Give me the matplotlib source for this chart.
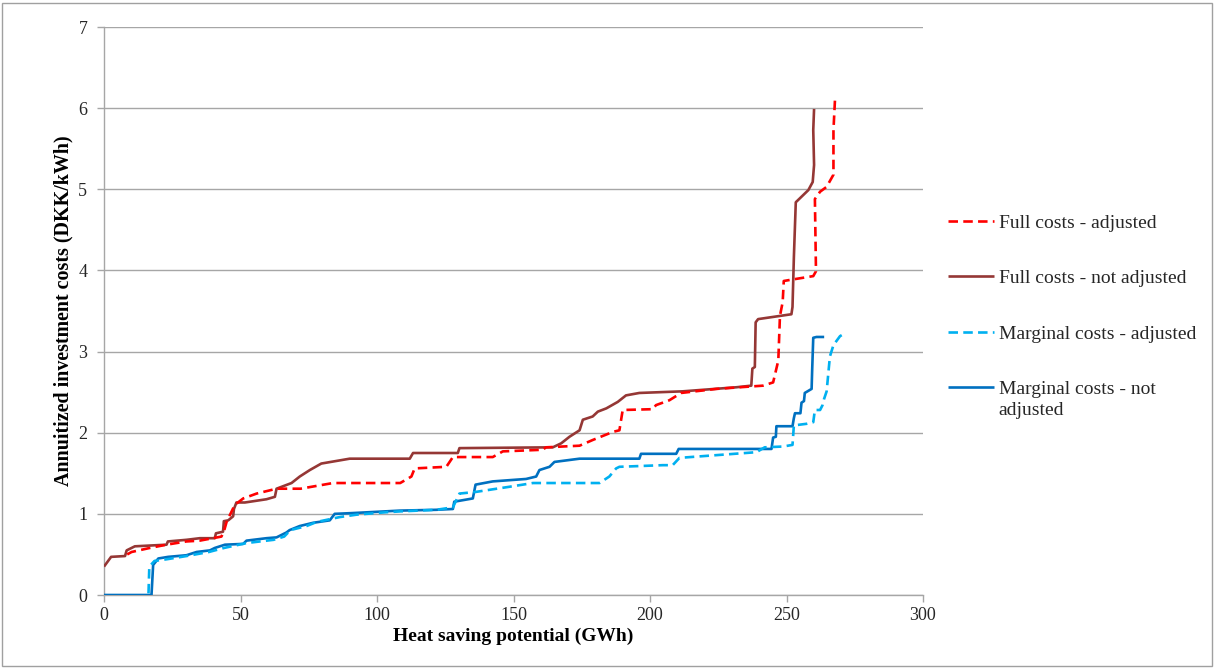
import matplotlib
matplotlib.use("Agg")
import matplotlib.pyplot as plt
from matplotlib.patches import Rectangle

# ---- data (x: GWh, y: DKK/kWh) ----
full_adjusted = [(8.5, 0.50), (10.1, 0.53), (16.8, 0.58), (22.9, 0.62), (30.2, 0.66), (35.1, 0.67),
                 (43.0, 0.72), (43.9, 0.78), (44.9, 0.90), (47.9, 1.11), (51.0, 1.19), (55.9, 1.25),
                 (63.2, 1.31), (72.0, 1.31), (83.9, 1.38), (108.5, 1.38), (112.6, 1.46), (113.8, 1.56),
                 (125.4, 1.58), (127.8, 1.70), (142.4, 1.70), (146.1, 1.77), (160.7, 1.79), (161.9, 1.82),
                 (174.2, 1.84), (179.0, 1.91), (186.4, 2.01), (188.8, 2.03), (190.0, 2.28), (201.0, 2.29),
                 (202.2, 2.34), (207.1, 2.40), (211.4, 2.49), (224.3, 2.54), (241.4, 2.58), (245.1, 2.62),
                 (247.0, 2.89), (247.6, 3.44), (248.6, 3.61), (249.0, 3.87), (252.5, 3.89), (259.8, 3.93),
                 (260.8, 3.99), (260.4, 4.88), (262.3, 4.97), (264.7, 5.03), (267.2, 5.18), (267.2, 5.73),
                 (267.8, 6.13)]

full_not_adjusted = [(0.0, 0.35), (2.6, 0.47), (7.7, 0.48), (8.3, 0.55), (11.3, 0.60), (22.9, 0.62),
                     (23.4, 0.66), (30.2, 0.68), (35.1, 0.70), (40.6, 0.70), (41.0, 0.76), (43.6, 0.78),
                     (43.9, 0.91), (45.5, 0.92), (47.3, 0.97), (47.6, 1.06), (48.5, 1.14), (51.6, 1.14),
                     (59.5, 1.18), (62.6, 1.21), (63.2, 1.31), (68.7, 1.38), (71.7, 1.46), (75.4, 1.54),
                     (79.6, 1.62), (90.0, 1.68), (112.0, 1.68), (113.2, 1.75), (129.6, 1.75), (130.2, 1.81),
                     (164.4, 1.82), (167.5, 1.87), (170.5, 1.95), (174.2, 2.03), (175.4, 2.16), (179.0, 2.20),
                     (180.9, 2.26), (184.0, 2.30), (188.2, 2.38), (191.2, 2.46), (196.1, 2.49), (212.0, 2.51),
                     (231.6, 2.56), (237.1, 2.58), (237.5, 2.79), (238.4, 2.81), (238.7, 3.36), (239.6, 3.40),
                     (251.8, 3.46), (252.2, 3.55), (252.7, 4.16), (253.4, 4.84), (258.0, 4.99), (259.6, 5.09),
                     (260.1, 5.30), (259.8, 5.73), (260.1, 5.99)]

marginal_adjusted = [(16.3, 0.02), (16.6, 0.35), (18.5, 0.42), (22.9, 0.44), (30.2, 0.48), (38.4, 0.53),
                     (44.0, 0.58), (52.2, 0.64), (62.1, 0.68), (66.0, 0.72), (68.3, 0.80), (74.2, 0.85),
                     (77.9, 0.90), (86.3, 0.96), (92.5, 0.99), (103.4, 1.02), (108.3, 1.03), (121.7, 1.05),
                     (127.8, 1.08), (130.2, 1.25), (136.1, 1.27), (149.7, 1.34), (157.1, 1.38), (181.5, 1.38),
                     (185.1, 1.46), (187.6, 1.56), (188.8, 1.58), (204.7, 1.60), (208.3, 1.60), (210.8, 1.69),
                     (239.0, 1.76), (242.0, 1.82), (248.8, 1.83), (252.2, 1.85), (252.7, 2.09), (257.4, 2.11),
                     (259.8, 2.13), (260.4, 2.28), (262.3, 2.28), (263.2, 2.34), (263.7, 2.41), (264.7, 2.51),
                     (265.9, 2.94), (267.2, 3.08), (269.6, 3.19), (271.1, 3.22)]

marginal_not_adjusted = [(0.0, 0.0), (17.4, 0.0), (18.0, 0.37), (19.9, 0.45), (23.5, 0.47), (30.2, 0.49),
                         (33.9, 0.53), (38.8, 0.55), (40.6, 0.58), (44.3, 0.62), (51.0, 0.63), (52.2, 0.67),
                         (59.5, 0.70), (63.2, 0.71), (66.8, 0.77), (68.0, 0.80), (71.7, 0.85), (76.6, 0.89),
                         (82.7, 0.92), (84.5, 1.00), (91.2, 1.01), (108.3, 1.04), (121.7, 1.05), (127.8, 1.06),
                         (128.3, 1.15), (135.1, 1.19), (136.1, 1.36), (142.4, 1.40), (154.6, 1.43), (158.3, 1.46),
                         (159.5, 1.54), (163.2, 1.58), (165.0, 1.64), (174.2, 1.68), (196.1, 1.68), (196.7, 1.74),
                         (209.6, 1.74), (210.5, 1.80), (244.5, 1.80), (245.1, 1.94), (246.1, 1.95), (246.3, 2.08),
                         (252.2, 2.08), (252.7, 2.18), (253.1, 2.24), (255.1, 2.24), (255.5, 2.37), (256.4, 2.39),
                         (256.7, 2.49), (259.2, 2.54), (259.4, 2.77), (259.8, 3.17), (261.0, 3.18), (263.8, 3.18)]

series_labels = ["Full costs - adjusted", "Full costs - not adjusted",
                 "Marginal costs - adjusted", "Marginal costs - not\nadjusted"]
x_ticks = [0, 50, 100, 150, 200, 250, 300]
y_ticks = [0, 1, 2, 3, 4, 5, 6, 7]
x_label = "Heat saving potential (GWh)"
y_label = "Annuitized investment costs (DKK/kWh)"

plt.rcParams['font.family'] = ['Liberation Serif', 'DejaVu Serif']

W, H = 1215, 669
fig = plt.figure(figsize=(W / 100, H / 100), dpi=100)
ax = fig.add_axes([104 / W, 1 - 595 / H, (923 - 104) / W, (595 - 27) / H])

def xy(pts):
    return [p[0] for p in pts], [p[1] for p in pts]

grey = "#A6A6A6"
text_col = "#262626"
dash = (3.6, 2.0)
lw = 1.9

x, y = xy(full_not_adjusted)
l2, = ax.plot(x, y, color="#953735", lw=lw, solid_capstyle="butt", zorder=3)
x, y = xy(full_adjusted)
l1, = ax.plot(x, y, color="#FF0000", lw=lw, dashes=dash, zorder=4)
x, y = xy(marginal_not_adjusted)
l4, = ax.plot(x, y, color="#0070C0", lw=lw, solid_capstyle="butt", zorder=3)
x, y = xy(marginal_adjusted)
l3, = ax.plot(x, y, color="#00B0F0", lw=lw, dashes=dash, zorder=4)

ax.set_xlim(0, 300)
ax.set_ylim(0, 7)
ax.set_xticks(x_ticks)
ax.set_yticks(y_ticks)
ax.yaxis.grid(True, color=grey, lw=1.0)
ax.set_axisbelow(True)
for s in ["top", "right"]:
    ax.spines[s].set_visible(False)
for s in ["left", "bottom"]:
    ax.spines[s].set_color(grey)
    ax.spines[s].set_linewidth(1.0)
ax.tick_params(axis="both", colors=grey, length=5, width=1.0, labelsize=13,
               labelcolor=text_col, direction="out")
ax.tick_params(axis="y", pad=7)
ax.tick_params(axis="x", pad=3.5)

ax.set_xlabel(x_label, fontsize=14, fontweight="bold", labelpad=3)
ax.set_ylabel(y_label, fontsize=14.4, fontweight="bold", labelpad=3.5)

# legend: first line of each label next to its key, extra lines below (as in the source)
first_lines = [s.split("\n")[0] for s in series_labels]
leg = ax.legend([l1, l2, l3, l4], first_lines, loc="upper left",
                bbox_to_anchor=(948 / W, 1 - 214 / H), bbox_transform=fig.transFigure,
                frameon=False, fontsize=14, handlelength=2.35, handletextpad=0.25,
                labelspacing=1.95, borderaxespad=0, borderpad=0)
for t in leg.get_texts():
    t.set_color(text_col)

fig.canvas.draw()
renderer = fig.canvas.get_renderer()
for t, full in zip(leg.get_texts(), series_labels):
    extra = full.split("\n")[1:]
    if extra:
        bb = t.get_window_extent(renderer)
        fig.text(bb.x0 / W, (bb.y0 - 21) / H, "\n".join(extra), fontsize=14,
                 color=text_col, ha="left", va="bottom")

fig.patches.append(Rectangle((2 / W, 3 / H), 1 - 5 / W, 1 - 6 / H, transform=fig.transFigure,
                             fill=False, edgecolor="#A0A0A0", lw=1.0))

fig.savefig("out.png", dpi=100)
